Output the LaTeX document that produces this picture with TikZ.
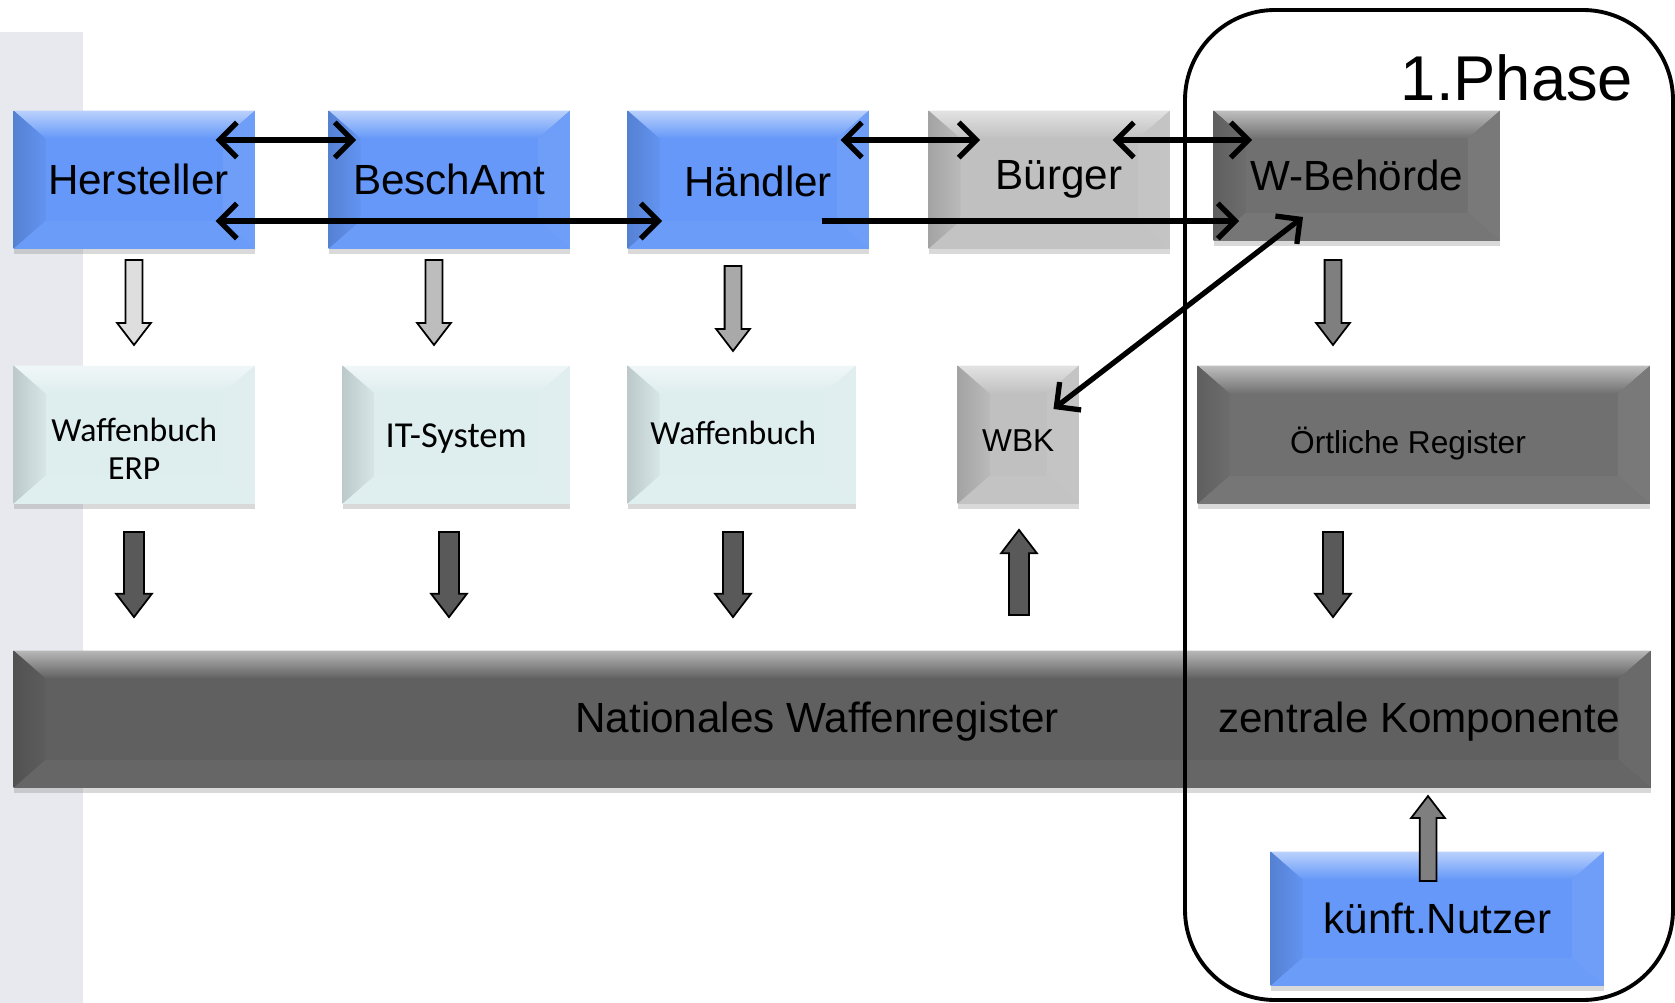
\documentclass[tikz,border=0pt]{standalone}
\usepackage{fontspec}
\setmainfont{Liberation Sans}
\newfontfamily\calibri{Carlito}
\usetikzlibrary{positioning,calc,shapes.arrows,shadows,arrows.meta}

\definecolor{bandgray}{RGB}{232,233,238}
\definecolor{actorblue}{RGB}{101,152,248}
\definecolor{syspale}{RGB}{222,237,238}
\definecolor{citgray}{RGB}{192,192,192}
\definecolor{authgray}{RGB}{112,112,112}
\definecolor{regdark}{RGB}{96,96,96}
\definecolor{flowA}{RGB}{222,222,222}
\definecolor{flowB}{RGB}{189,189,189}
\definecolor{flowC}{RGB}{169,169,169}
\definecolor{flowD}{RGB}{127,127,127}
\definecolor{flowdark}{RGB}{89,89,89}

% move text without changing the box size
\newcommand{\nudge}[2]{\raisebox{#1}[\height][\depth]{#2}}

\tikzset{
	bevel/.style={path picture={
		\path (path picture bounding box.north west) coordinate (bNW)
		      (path picture bounding box.north east) coordinate (bNE)
		      (path picture bounding box.south east) coordinate (bSE)
		      (path picture bounding box.south west) coordinate (bSW);
		\shade[top color=#1!45!white, bottom color=#1] (bNW) -- (bNE) -- ($(bNE)+(-32,28)$) -- ($(bNW)+(32,28)$) -- cycle;
		\shade[left color=#1!85!black, right color=#1!97!black] (bNW) -- ($(bNW)+(32,28)$) -- ($(bSW)+(32,-28)$) -- (bSW) -- cycle;
		\fill[#1!94!white] (bNE) -- ($(bNE)+(-32,28)$) -- ($(bSE)+(-32,-28)$) -- (bSE) -- cycle;
		\fill[#1!96!white] (bSW) -- ($(bSW)+(32,-28)$) -- ($(bSE)+(-32,-28)$) -- (bSE) -- cycle;
	}},
	box/.style={fill=#1, bevel=#1, inner sep=0pt, anchor=north west,
		drop shadow={shadow xshift=0pt, shadow yshift=-1.5pt, opacity=0.3},
		font=\fontsize{12}{14}\selectfont},
	sysbox/.style={box=syspale, font=\calibri\fontsize{9.6}{10.6}\selectfont, align=center},
	blk/.style={single arrow, draw=black, line width=0.5pt, fill=#1, inner xsep=0pt, inner ysep=0.075cm,
		minimum height=0.85cm, minimum width=0.32cm, single arrow head extend=0.085cm,
		single arrow tip angle=75, single arrow head indent=0pt},
	blkdark/.style={blk=flowdark, inner ysep=0.092cm, minimum width=0.34cm, single arrow head extend=0.078cm},
	link/.style={line width=1.5pt},
	>={Straight Barb[length=5pt,width=10pt]}
}

\begin{document}
\begin{tikzpicture}[x=0.01cm, y=-0.01cm]

	\useasboundingbox (0,0) rectangle (1675,1003);
	\fill[bandgray] (0,32) rectangle (83,1003);

	% actors
	\node[box=actorblue, minimum width=2.41cm, minimum height=1.38cm] (hst) at (13,110) {\hspace{2.3pt}Hersteller};
	\node[box=actorblue, minimum width=2.41cm, minimum height=1.38cm] (bes) at (328,110) {BeschAmt};
	\node[box=actorblue, minimum width=2.41cm, minimum height=1.38cm] (hnd) at (627,110) {\hspace{5.6pt}\nudge{-0.4pt}{Händler}};
	\node[box=citgray, minimum width=2.41cm, minimum height=1.38cm] (bur) at (928,110) {\hspace{5.6pt}Bürger};
	\node[box=authgray, minimum width=2.86cm, minimum height=1.30cm] (wbe) at (1213,110) {W-Behörde};

	% systems
	\node[sysbox, minimum width=2.41cm, minimum height=1.38cm] (wba) at (13,365) {\nudge{-4pt}{Waffenbuch}\\\nudge{-4pt}{ERP}};
	\node[sysbox, minimum width=2.27cm, minimum height=1.38cm, font=\calibri\fontsize{10.4}{12}\selectfont] (its) at (342,365) {\nudge{-1pt}{IT-System}};
	\node[sysbox, minimum width=2.28cm, minimum height=1.38cm] (wbb) at (627,365) {\hspace{-4.8pt}\nudge{0.6pt}{Waffenbuch}};
	\node[box=citgray, minimum width=1.21cm, minimum height=1.38cm, font=\fontsize{9}{11}\selectfont] (wbk) at (957,365) {\nudge{-1.6pt}{WBK}};
	\node[box=authgray, minimum width=4.52cm, minimum height=1.38cm, font=\fontsize{9}{11}\selectfont] (oer) at (1197,365) {\hspace{-9pt}\nudge{-2.5pt}{Örtliche Register}};

	% register
	\node[box=regdark, minimum width=16.36cm, minimum height=1.37cm] (nwr) at (13,650) {};
	\node[font=\fontsize{12}{14}\selectfont] (nwt) at (817,722) {Nationales Waffenregister};
	\node[font=\fontsize{12}{14}\selectfont] (zkt) at (1419,722) {zentrale Komponente};

	% phase frame
	\draw[line width=1.1pt, rounded corners=0.9cm] (1185,10) rectangle (1673,1000);
	\node[font=\fontsize{18}{20}\selectfont] (phs) at (1517,78) {1.Phase};
	\node[box=actorblue, minimum width=3.33cm, minimum height=1.34cm] (knu) at (1270,851) {künft.Nutzer};

	% block arrows
	\node[blk=flowA, rotate=-90] (a1) at (134,297) {};
	\node[blk=flowB, rotate=-90] (a2) at (434,297) {};
	\node[blk=flowC, rotate=-90] (a3) at (733,303) {};
	\node[blk=flowD, rotate=-90] (a4) at (1333,297) {};
	\node[blkdark, rotate=-90] (d1) at (134,568) {};
	\node[blkdark, rotate=-90] (d2) at (449,568) {};
	\node[blkdark, rotate=-90] (d3) at (733,568) {};
	\node[blkdark, rotate=90] (u1) at (1019,579) {};
	\node[blkdark, rotate=-90] (d4) at (1333,568) {};
	\node[blk=flowD, rotate=90] (u2) at (1428,844) {};

	% data flows
	\draw[link, <->] ([shift={(-40,30)}]hst.north east) -- ([shift={(28,30)}]bes.north west);
	\draw[link, <->] ([shift={(-40,111)}]hst.north east) -- ([shift={(35,111)}]hnd.north west);
	\draw[link, <->] ([shift={(-29,30)}]hnd.north east) -- ([shift={(52,30)}]bur.north west);
	\draw[link, <->] ([shift={(-58,30)}]bur.north east) -- ([shift={(39,30)}]wbe.north west);
	\draw[link, ->] ([shift={(-48,111)}]hnd.north east) -- ([shift={(26,111)}]wbe.north west);
	\draw[link, <->] ([shift={(90,107)}]wbe.north west) -- ([shift={(-26,44)}]wbk.north east);

\end{tikzpicture}
\end{document}
